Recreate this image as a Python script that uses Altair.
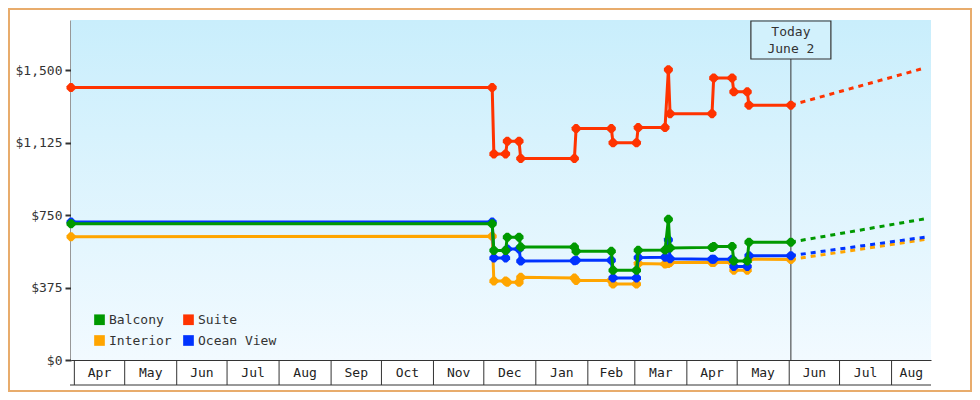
import altair as alt
import pandas as pd

# ---------------- data ----------------
# legend order (Vega fills legend columns top-to-bottom)
series_order = ["Balcony", "Interior", "Suite", "Ocean View"]
series_colors = ["#009900", "#ffa500", "#ff3300", "#0033ff"]
draw_order = ["Interior", "Ocean View", "Suite", "Balcony"]

dates = ["2018-03-30", "2018-12-06", "2018-12-07", "2018-12-14", "2018-12-15",
         "2018-12-22", "2018-12-23", "2019-01-24", "2019-01-25", "2019-02-15",
         "2019-02-16", "2019-03-02", "2019-03-03", "2019-03-19", "2019-03-21",
         "2019-03-22", "2019-04-16", "2019-04-17", "2019-04-28", "2019-04-29",
         "2019-05-07", "2019-05-08", "2019-06-02"]
suite = [1410, 1410, 1067, 1067, 1133, 1133, 1043, 1043, 1198, 1198, 1124, 1124,
         1203, 1203, 1503, 1275, 1275, 1460, 1460, 1388, 1388, 1319, 1319]
balcony = [705, 705, 567, 567, 636, 636, 585, 585, 563, 563, 464, 464,
           568, 569, 728, 580, 583, 588, 588, 513, 513, 610, 610]
ocean_view = [714, 714, 528, 528, 575, 575, 512, 514, 516, 516, 425, 425,
              530, 532, 622, 524, 522, 522, 522, 484, 484, 540, 540]
interior = [638, 640, 409, 409, 402, 402, 428, 424, 412, 412, 393, 393,
            499, 497, 500, 505, 505, 505, 505, 465, 465, 523, 520]

forecast_dates = ["2019-06-02", "2019-08-21"]
forecast_suite = [1319, 1512]
forecast_balcony = [610, 731]
forecast_ocean_view = [540, 636]
forecast_interior = [520, 624]

month_starts = ["2018-04-01", "2018-05-01", "2018-06-01", "2018-07-01", "2018-08-01",
                "2018-09-01", "2018-10-01", "2018-11-01", "2018-12-01", "2019-01-01",
                "2019-02-01", "2019-03-01", "2019-04-01", "2019-05-01", "2019-06-01",
                "2019-07-01", "2019-08-01"]
month_labels = ["Apr", "May", "Jun", "Jul", "Aug", "Sep", "Oct", "Nov", "Dec",
                "Jan", "Feb", "Mar", "Apr", "May", "Jun", "Jul", "Aug"]
y_ticks = [0, 375, 750, 1125, 1500]
y_max = 1760
x_start = "2018-03-30T00:00:00"
x_end = "2019-08-24T12:00:00"
today = "2019-06-02"
today_lines = ["Today", "June 2"]

# ---------------- tables ----------------
values = {"Balcony": balcony, "Suite": suite, "Interior": interior, "Ocean View": ocean_view}
forecasts = {"Balcony": forecast_balcony, "Suite": forecast_suite,
             "Interior": forecast_interior, "Ocean View": forecast_ocean_view}

W, H = 860, 340
FONT = "DejaVu Sans Mono"
INK = "#333333"

d0 = pd.Timestamp(x_start)
d1 = pd.Timestamp(x_end)
ms = [pd.Timestamp(m) for m in month_starts]
mids = []
for i, s in enumerate(ms):
    e = ms[i + 1] if i + 1 < len(ms) else d1
    e = min(e, d1)
    s2 = max(s, d0)
    mids.append(s2 + (e - s2) / 2)
months_df = pd.DataFrame({"start": ms, "mid": mids, "label": month_labels})

xscale = alt.Scale(domain=[alt.DateTime(year=2018, month=3, date=30),
                           alt.DateTime(year=2019, month=8, date=24, hours=12)])
yscale = alt.Scale(domain=[0, y_max], nice=False)
cscale = alt.Scale(domain=series_order, range=series_colors)

xaxis = alt.Axis(title=None, labels=False, ticks=False, grid=False,
                 domainColor=INK, domainWidth=1)
yaxis = alt.Axis(title=None, values=y_ticks, format="$,.0f", grid=False,
                 domainColor=INK, domainWidth=2, tickColor=INK, tickWidth=2,
                 tickSize=6, labelPadding=3, labelFont=FONT, labelFontSize=13,
                 labelColor=INK)
legend = alt.Legend(title=None, orient="none", legendX=22, legendY=293, columns=2,
                    symbolType="square", symbolSize=114, symbolStrokeWidth=0,
                    symbolOpacity=1,
                    labelFont=FONT, labelFontSize=13, labelColor=INK,
                    labelOffset=3, columnPadding=10, rowPadding=7, padding=0)

X = alt.X("date:T", scale=xscale, axis=xaxis)
Y = alt.Y("price:Q", scale=yscale, axis=yaxis)
C = alt.Color("series:N", scale=cscale, legend=legend)

gradient = alt.LinearGradient(
    gradient="linear", x1=0, x2=0, y1=0, y2=1,
    stops=[alt.GradientStop(color="#c9eefc", offset=0),
           alt.GradientStop(color="#f2faff", offset=1)])

one = pd.DataFrame({"k": [0]})
bg = alt.Chart(one).mark_rect(color=gradient).encode(
    x=alt.value(0), x2=alt.value(W), y=alt.value(0), y2=alt.value(H))

month_ticks = alt.Chart(months_df).mark_rule(color=INK, strokeWidth=1).encode(
    x=alt.X("start:T", scale=xscale, axis=xaxis), y=alt.value(H), y2=alt.value(H + 25))
month_text = alt.Chart(months_df).mark_text(
    font=FONT, fontSize=13, color="#222222", baseline="middle", align="center").encode(
    x=alt.X("mid:T", scale=xscale, axis=xaxis), y=alt.value(H + 13), text="label:N")
bottom_line = alt.Chart(one).mark_rule(color=INK, strokeWidth=1).encode(
    x=alt.value(-1), x2=alt.value(W), y=alt.value(H + 25))

today_df = pd.DataFrame({"date": [pd.Timestamp(today)], "text": ["\n".join(today_lines)]})
today_rule = alt.Chart(today_df).mark_rule(color=INK, strokeWidth=1).encode(
    x=alt.X("date:T", scale=xscale, axis=xaxis), y=alt.value(39), y2=alt.value(H))
today_box = alt.Chart(today_df).mark_rect(
    fill="#d2f1fc", stroke=INK, strokeWidth=1.2, xOffset=-40, x2Offset=40).encode(
    x=alt.X("date:T", scale=xscale, axis=xaxis), x2="date:T",
    y=alt.value(1), y2=alt.value(39))
today_text = alt.Chart(today_df).mark_text(
    font=FONT, fontSize=13, color=INK, lineBreak="\n", lineHeight=17.6,
    baseline="middle", align="center").encode(
    x=alt.X("date:T", scale=xscale, axis=xaxis), y=alt.value(11.7), text="text:N")

shape = "M-1,-0.3L-0.3,-1L0.3,-1L1,-0.3L1,0.3L0.3,1L-0.3,1L-1,0.3Z"

layers = [bg, month_ticks, month_text, bottom_line, today_rule]
for s in draw_order:
    fdf = pd.DataFrame({"date": pd.to_datetime(forecast_dates), "price": forecasts[s], "series": s})
    layers.append(alt.Chart(fdf).mark_line(strokeWidth=3, strokeDash=[5, 5]).encode(x=X, y=Y, color=C))
for s in draw_order:
    hdf = pd.DataFrame({"date": pd.to_datetime(dates), "price": values[s], "series": s})
    layers.append(alt.Chart(hdf).mark_line(strokeWidth=3).encode(x=X, y=Y, color=C))
    layers.append(alt.Chart(hdf).mark_point(filled=True, shape=shape, size=81, opacity=1)
                  .encode(x=X, y=Y, color=C))
layers += [today_box, today_text]

border = alt.Chart(one).mark_rect(filled=False, stroke="#e8ac6c", strokeWidth=2).encode(
    x=alt.value(-62), x2=alt.value(W + 40), y=alt.value(-11), y2=alt.value(H + 31))
layers.append(border)

chart = alt.layer(*layers).properties(
    width=W, height=H,
    autosize=alt.AutoSizeParams(type="none"),
    padding={"left": 63, "top": 12, "right": 41, "bottom": 32},
    background="white",
).configure_view(strokeWidth=0)

chart.save("out.html", embed_options={"renderer": "svg", "actions": False})
